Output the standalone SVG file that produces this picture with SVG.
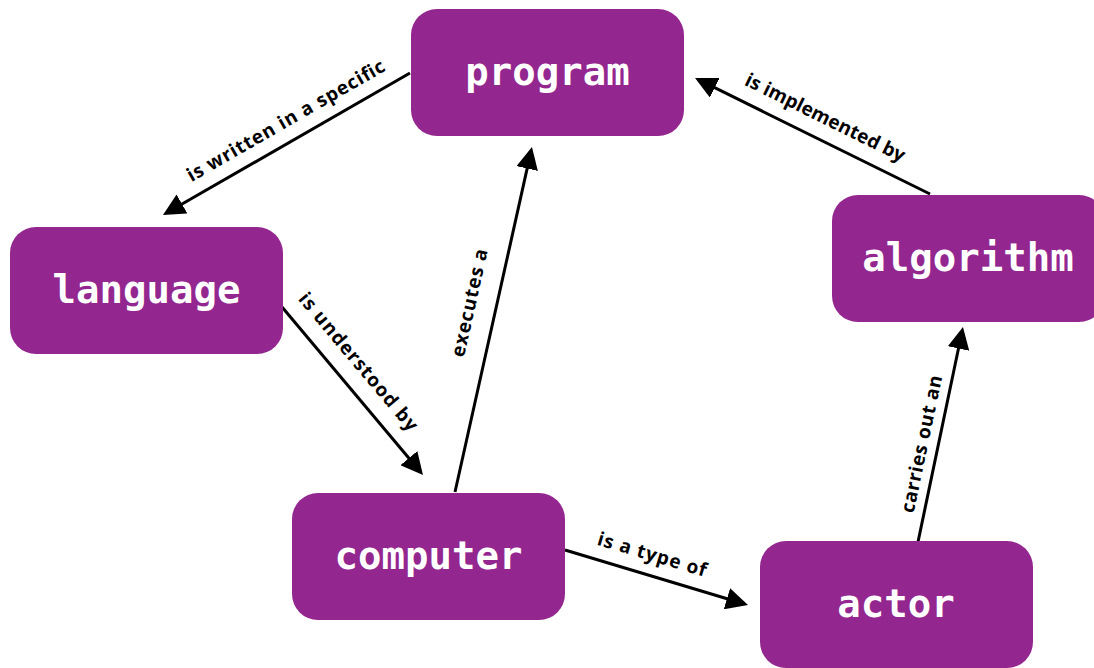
<svg xmlns="http://www.w3.org/2000/svg" width="1094" height="668" viewBox="0 0 1094 668">
<style>
.node rect{fill:#93278f;}
.node text{fill:#ffffff;font-family:"DejaVu Sans Mono","Liberation Mono",monospace;font-weight:bold;font-size:39px;text-anchor:middle;}
.edge line{stroke:#000;stroke-width:3;fill:none;}
.lbl{fill:#000;font-family:"Open Sans","Liberation Sans",sans-serif;font-weight:bold;font-size:19px;text-anchor:middle;}
</style>
<defs>
<marker id="arr" markerUnits="userSpaceOnUse" viewBox="0 0 22 22" markerWidth="22" markerHeight="22" refX="8" refY="11" orient="auto">
<path d="M0,0 L22,11 L0,22 z" fill="#000"/>
</marker>
</defs>
<rect width="1094" height="668" fill="#ffffff"/>
<g id="connectors" class="edge">
<line x1="410" y1="73" x2="175.1" y2="208" marker-end="url(#arr)"/>
<line x1="282" y1="307" x2="414" y2="464.3" marker-end="url(#arr)"/>
<line x1="455" y1="492" x2="528.9" y2="160.7" marker-end="url(#arr)"/>
<line x1="565" y1="550" x2="734.6" y2="601" marker-end="url(#arr)"/>
<line x1="918" y1="542" x2="960.1" y2="340.7" marker-end="url(#arr)"/>
<line x1="930" y1="194" x2="707.6" y2="84.2" marker-end="url(#arr)"/>
<text class="lbl" transform="translate(286,121) rotate(-29.9)" x="0" y="6" textLength="225" lengthAdjust="spacing">is written in a specific</text>
<text class="lbl" transform="translate(358,362) rotate(50)" x="0" y="6" textLength="174" lengthAdjust="spacing">is understood by</text>
<text class="lbl" transform="translate(470,303) rotate(-77.4)" x="0" y="6" textLength="110" lengthAdjust="spacing">executes a</text>
<text class="lbl" transform="translate(652,555) rotate(16.7)" x="0" y="6" textLength="113" lengthAdjust="spacing">is a type of</text>
<text class="lbl" transform="translate(922,444) rotate(-78.2)" x="0" y="6" textLength="140" lengthAdjust="spacing">carries out an</text>
<text class="lbl" transform="translate(825,118) rotate(26.3)" x="0" y="6" textLength="176" lengthAdjust="spacing">is implemented by</text>
</g>
<g id="program" class="node"><rect x="411" y="9" width="273" height="127" rx="26"/><text x="547.5" y="85">program</text></g>
<g id="language" class="node"><rect x="10" y="227" width="273" height="127" rx="26"/><text x="146.5" y="303">language</text></g>
<g id="algorithm" class="node"><rect x="832" y="195" width="273" height="127" rx="26"/><text x="968" y="271">algorithm</text></g>
<g id="computer" class="node"><rect x="292" y="493" width="273" height="127" rx="26"/><text x="428.5" y="569">computer</text></g>
<g id="actor" class="node"><rect x="760" y="541" width="273" height="127" rx="26"/><text x="896" y="617">actor</text></g>
</svg>
